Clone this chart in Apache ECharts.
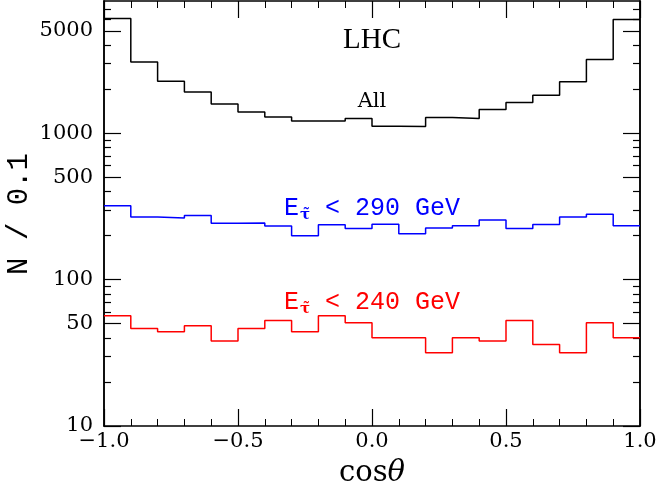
<!DOCTYPE html>
<html>
<head>
<meta charset="utf-8">
<script src="https://cdn.jsdelivr.net/npm/echarts@6/dist/echarts.min.js"></script>
<style>
  html, body { margin: 0; padding: 0; background: #fff; }
  #chart { width: 656px; height: 489px; }
</style>
</head>
<body>
<div id="chart"></div>
<script>
// bin low edges in cos(theta), width 0.1
const binLow = [-1.0, -0.9, -0.8, -0.7, -0.6, -0.5, -0.4, -0.3, -0.2, -0.1,
  0.0, 0.1, 0.2, 0.3, 0.4, 0.5, 0.6, 0.7, 0.8, 0.9]
const binHigh = 1.0

// N / 0.1 per bin
const allEvents = [6070, 3070, 2265, 1914, 1585, 1398, 1292, 1213, 1213, 1260,
  1116, 1110, 1280, 1260, 1452, 1620, 1816, 2244, 3185, 5970]
const below290 = [319, 268, 264, 274, 243, 244, 232, 199, 237, 223,
  239, 206, 225, 233, 255, 223, 238, 268, 279, 233]
const below240 = [56.6, 46.4, 44, 48.4, 38, 46.4, 52.6, 44, 56.6, 50.7,
  40, 40, 31.6, 40, 38, 52.6, 36, 31.6, 50.7, 40]

const yMajor = [10, 50, 100, 500, 1000, 5000]
const yMinor = [20, 30, 40, 60, 70, 80, 90, 200, 300, 400, 600, 700, 800, 900,
  2000, 3000, 4000, 6000, 7000]

const chart = echarts.init(document.getElementById('chart'))

// histogram as step line: one point per low edge, plus closing edge
function steps(values) {
  const pts = binLow.map((x, i) => [x, values[i]])
  pts.push([binHigh, values[values.length - 1]])
  return pts
}

const black = '#000'
const serif = 'DejaVu Serif'
const mono = 'Liberation Mono'

function xAxisDef(pos, labels) {
  return {
    type: 'value',
    position: pos,
    min: -1,
    max: 1,
    interval: 0.5,
    axisLine: { show: true, onZero: false, lineStyle: { color: black, width: 1.5 } },
    axisTick: { show: true, inside: true, length: 17, lineStyle: { color: black, width: 1.2 } },
    minorTick: { show: true, splitNumber: 5, length: 7, lineStyle: { color: black, width: 1 } },
    splitLine: { show: false },
    axisLabel: {
      show: labels,
      margin: 5,
      fontFamily: serif,
      fontSize: 21,
      color: black,
      showMinLabel: true,
      showMaxLabel: true,
      formatter: (v) => (v < 0 ? '\u2212' + Math.abs(v).toFixed(1) : v.toFixed(1))
    },
    name: labels ? '{a|cos}{b|θ}' : '',
    nameLocation: 'middle',
    nameGap: 33,
    nameTextStyle: {
      rich: {
        a: { fontFamily: serif, fontSize: 29, color: black },
        b: { fontFamily: serif, fontSize: 29, fontStyle: 'italic', color: black }
      }
    }
  }
}

function yAxisDef(pos, ticks, len, labels) {
  return {
    type: 'log',
    logBase: 10,
    position: pos,
    min: 10,
    max: 8000,
    axisLine: { show: true, onZero: false, lineStyle: { color: black, width: 1.5 } },
    axisTick: { show: true, inside: true, length: len, customValues: ticks, lineStyle: { color: black, width: 1.2 } },
    minorTick: { show: false },
    splitLine: { show: false },
    axisLabel: {
      show: labels,
      customValues: yMajor,
      margin: 11,
      fontFamily: serif,
      fontSize: 21,
      color: black,
      formatter: (v) => String(Math.round(v))
    }
  }
}

function labelText(cut) {
  return '{e|E}{s|τ\u0303}{t| < ' + cut + ' GeV}'
}
function labelRich(color) {
  return {
    e: { fontFamily: mono, fontSize: 25, fill: color, lineHeight: 30, verticalAlign: 'middle' },
    s: { fontFamily: serif, fontSize: 15, fontWeight: 'bold', fill: color, lineHeight: 15, verticalAlign: 'bottom', padding: [0, 0, 0, 1] },
    t: { fontFamily: mono, fontSize: 25, fill: color, lineHeight: 30, verticalAlign: 'middle' }
  }
}

chart.setOption({
  animation: false,
  backgroundColor: '#fff',
  grid: { left: 104, right: 16, top: 1, bottom: 63, outerBoundsMode: 'none', containLabel: false },
  xAxis: [xAxisDef('bottom', true), xAxisDef('top', false)],
  yAxis: [
    yAxisDef('left', yMajor, 17, true),
    yAxisDef('left', yMinor, 7, false),
    yAxisDef('right', yMajor, 17, false),
    yAxisDef('right', yMinor, 7, false)
  ],
  graphic: [
    {
      type: 'text', x: 19, y: 214, rotation: Math.PI / 2,
      style: { text: 'N / 0.1', font: '29px "Liberation Mono"', fill: black, align: 'center', verticalAlign: 'middle' }
    },
    {
      type: 'text', x: 372, y: 40,
      style: { text: 'LHC', font: '29px "Liberation Serif"', fill: black, align: 'center', verticalAlign: 'middle' }
    },
    {
      type: 'text', x: 372, y: 102,
      style: { text: 'All', font: '21px "DejaVu Serif"', fill: black, align: 'center', verticalAlign: 'middle' }
    },
    {
      type: 'text', x: 372, y: 208,
      style: { text: labelText(290), rich: labelRich('#0000ff'), align: 'center', verticalAlign: 'middle' }
    },
    {
      type: 'text', x: 372, y: 302,
      style: { text: labelText(240), rich: labelRich('#ff0000'), align: 'center', verticalAlign: 'middle' }
    }
  ],
  series: [
    { name: 'All', type: 'line', step: 'end', data: steps(allEvents), symbol: 'none', lineStyle: { color: black, width: 1.5 } },
    { name: 'E < 290 GeV', type: 'line', step: 'end', data: steps(below290), symbol: 'none', lineStyle: { color: '#0000ff', width: 1.5 } },
    { name: 'E < 240 GeV', type: 'line', step: 'end', data: steps(below240), symbol: 'none', lineStyle: { color: '#ff0000', width: 1.5 } }
  ]
})
</script>
</body>
</html>
